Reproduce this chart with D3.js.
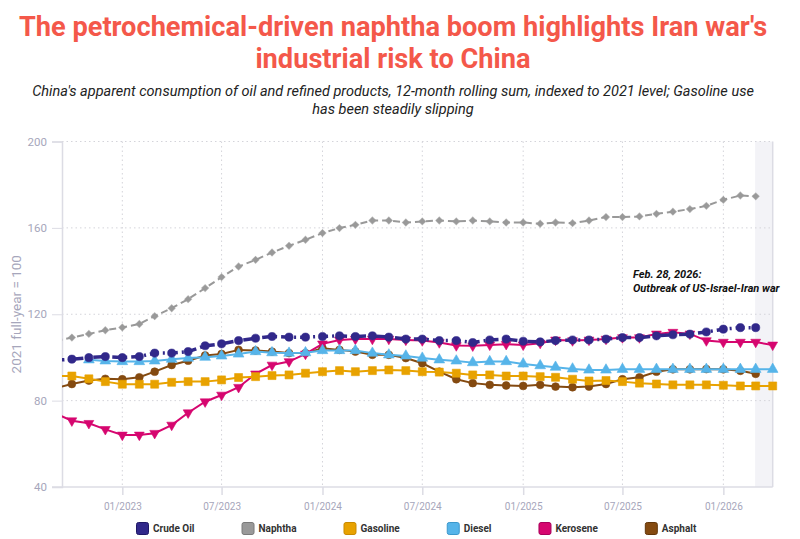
<!DOCTYPE html>
<html>
<head>
<meta charset="utf-8">
<script src="https://cdn.jsdelivr.net/npm/d3@7"></script>
<style>
  body { margin: 0; background: #fff; font-family: Roboto, 'Noto Sans', sans-serif; }
</style>
</head>
<body>
<svg id="chart" width="800" height="539"></svg>
<script>
const months = [
  '2022-09', '2022-10', '2022-11', '2022-12',
  '2023-01', '2023-02', '2023-03', '2023-04', '2023-05', '2023-06',
  '2023-07', '2023-08', '2023-09', '2023-10', '2023-11', '2023-12',
  '2024-01', '2024-02', '2024-03', '2024-04', '2024-05', '2024-06',
  '2024-07', '2024-08', '2024-09', '2024-10', '2024-11', '2024-12',
  '2025-01', '2025-02', '2025-03', '2025-04', '2025-05', '2025-06',
  '2025-07', '2025-08', '2025-09', '2025-10', '2025-11', '2025-12',
  '2026-01', '2026-02', '2026-03', '2026-04',
]

const crudeOil = [98.7, 99.2, 99.9, 100.4, 99.9, 100.4, 102.0, 102.0, 102.7,
  105.4, 106.3, 107.8, 108.9, 109.7, 109.4, 109.4, 109.7, 110.0, 109.7, 110.0, 109.4,
  108.5, 108.5, 107.8, 107.8, 106.9, 108.1, 108.5, 107.5, 107.2, 107.8, 108.1, 108.1,
  108.5, 109.2, 109.2, 110.0, 110.5, 110.8, 111.8, 113.1, 113.8, 113.8, null]
const naphtha = [107.7, 109.2, 110.9, 112.6, 113.9, 115.5, 119.1, 122.8, 127.0,
  132.1, 137.2, 142.1, 145.2, 148.6, 151.7, 154.5, 157.6, 159.9, 161.4, 163.4, 163.4,
  162.5, 163.0, 163.4, 163.0, 163.4, 163.0, 162.5, 162.5, 161.9, 162.5, 162.2, 163.4,
  165.0, 165.0, 165.3, 166.5, 167.5, 168.7, 170.2, 173.0, 175.0, 174.6, null]
const gasoline = [91.4, 91.4, 90.1, 88.8, 87.6, 87.6, 87.6, 88.5, 88.8,
  88.8, 89.6, 90.7, 91.1, 91.6, 91.9, 92.7, 93.4, 93.9, 93.4, 93.9, 94.2,
  93.9, 93.4, 93.2, 92.7, 91.9, 91.9, 91.4, 91.4, 91.1, 90.8, 89.9, 89.1,
  89.3, 88.8, 88.1, 87.7, 87.3, 87.3, 87.3, 87.1, 86.8, 86.8, 86.8]
const diesel = [null, null, 98.9, 98.4, 98.1, 98.1, 98.4, 99.2, 99.7,
  100.1, 100.7, 101.6, 102.7, 102.2, 102.0, 102.2, 103.2, 103.2, 103.2, 102.0, 101.2,
  100.7, 99.7, 98.9, 98.4, 97.6, 98.1, 98.1, 97.0, 96.2, 95.5, 94.7, 94.2,
  94.2, 94.5, 94.5, 94.5, 94.5, 94.5, 94.5, 94.5, 94.5, 94.5, 94.5]
const kerosene = [74.0, 70.7, 69.5, 66.7, 64.1, 64.1, 64.9, 68.7, 74.4,
  79.5, 82.6, 86.2, 92.4, 96.5, 98.1, 101.6, 106.3, 108.1, 108.5, 108.5, 108.5,
  108.1, 107.8, 106.9, 105.5, 105.4, 105.8, 106.1, 105.8, 106.6, 108.1, 107.8, 108.1,
  108.5, 109.2, 109.2, 110.9, 111.7, 110.9, 107.8, 107.1, 107.1, 107.1, 105.8]
const asphalt = [85.7, 87.7, 89.3, 90.1, 89.9, 90.8, 93.4, 96.5, 98.5,
  100.9, 101.6, 103.5, 103.2, 102.7, 102.0, 102.0, 104.3, 103.5, 102.7, 101.2, 101.2,
  99.7, 97.3, 93.4, 89.9, 88.1, 87.3, 87.0, 86.8, 87.3, 86.5, 86.2, 86.5,
  87.7, 89.9, 90.8, 93.4, 94.5, 94.5, 94.6, 94.5, 93.8, 92.4, null]

const yTicks = [40, 80, 120, 160, 200]
const xTicks = ['2023-01', '2023-07', '2024-01', '2024-07', '2025-01', '2025-07', '2026-01']

const parse = d3.timeParse('%Y-%m')
const parseDay = d3.timeParse('%Y-%m-%d')

const series = [
  { name: 'Crude Oil', values: crudeOil, color: '#31288a', edge: '#1f1866', symbol: d3.symbolCircle, size: 52, dash: '9,4,2,4', width: 3.5 },
  { name: 'Naphtha', values: naphtha, color: '#999999', edge: '#7a7a7a', symbol: d3.symbolSquare, size: 24, dash: '7,4', width: 2, turn: 45 },
  { name: 'Gasoline', values: gasoline, color: '#e8a200', edge: '#c98a00', symbol: d3.symbolSquare, size: 64, dash: null, width: 2 },
  { name: 'Diesel', values: diesel, color: '#56b4e9', edge: '#3c98cc', symbol: d3.symbolTriangle, size: 50, dash: null, width: 2 },
  { name: 'Kerosene', values: kerosene, color: '#d6066f', edge: '#a8005a', symbol: d3.symbolTriangle, size: 42, dash: null, width: 2, turn: 180 },
  { name: 'Asphalt', values: asphalt, color: '#844a10', edge: '#62360a', symbol: d3.symbolCircle, size: 48, dash: null, width: 2 },
]

const margin = { top: 141.5, right: 27.3, bottom: 52, left: 62 }
const width = 800
const height = 539
const svg = d3.select('#chart')

const x = d3.scaleTime()
  .domain([parseDay('2022-09-13'), parseDay('2026-04-01')])
  .range([margin.left, width - margin.right])
const y = d3.scaleLinear().domain([40, 200]).range([height - margin.bottom, margin.top])

// title
svg.append('g')
  .attr('font-weight', 700)
  .attr('font-size', 27.2)
  .attr('fill', '#f4584a')
  .attr('text-anchor', 'middle')
  .selectAll('text')
  .data(["The petrochemical-driven naphtha boom highlights Iran war's", 'industrial risk to China'])
  .join('text')
  .attr('x', 393)
  .attr('y', (d, i) => 36 + i * 32)
  .text((d) => d)

svg.append('g')
  .attr('font-style', 'italic')
  .attr('font-size', 14.5)
  .attr('fill', '#222')
  .attr('text-anchor', 'middle')
  .selectAll('text')
  .data(["China's apparent consumption of oil and refined products, 12-month rolling sum, indexed to 2021 level; Gasoline use", 'has been steadily slipping'])
  .join('text')
  .attr('x', 393)
  .attr('y', (d, i) => 96 + i * 18)
  .text((d) => d)

// shaded period after outbreak
const warStart = parseDay('2026-02-28')
svg.append('rect')
  .attr('x', x(warStart))
  .attr('y', y(200))
  .attr('width', x.range()[1] - x(warStart))
  .attr('height', y(40) - y(200))
  .attr('fill', '#f3f3f7')
svg.append('line')
  .attr('x1', x.range()[1]).attr('x2', x.range()[1])
  .attr('y1', y(200)).attr('y2', y(40))
  .attr('stroke', '#dcdce4')
  .attr('stroke-width', 1.5)

// grid
const grid = svg.append('g').attr('stroke', '#d4d4da').attr('stroke-dasharray', '1.5,3')
grid.selectAll('.hg')
  .data(yTicks.filter((d) => d > 40))
  .join('line')
  .attr('x1', margin.left).attr('x2', x.range()[1])
  .attr('y1', (d) => y(d)).attr('y2', (d) => y(d))
grid.selectAll('.vg')
  .data(xTicks)
  .join('line')
  .attr('x1', (d) => x(parse(d))).attr('x2', (d) => x(parse(d)))
  .attr('y1', y(200)).attr('y2', y(40))

// axes
const yAxis = svg.append('g')
  .attr('transform', `translate(${margin.left},0)`)
  .call(d3.axisLeft(y).tickValues(yTicks).tickSize(10).tickPadding(5))
yAxis.select('.domain').attr('stroke', '#dcdce4').attr('stroke-width', 1.5)
yAxis.selectAll('.tick line').attr('stroke', '#dcdce4')
yAxis.selectAll('.tick text').attr('fill', '#a6a6bb').attr('font-size', 11.5).attr('font-family', 'Roboto')

const xAxis = svg.append('g')
  .attr('transform', `translate(0,${y(40)})`)
  .call(d3.axisBottom(x).tickValues(xTicks.map(parse)).tickFormat(d3.timeFormat('%m/%Y')).tickSize(8).tickPadding(8).tickSizeOuter(0))
xAxis.select('.domain').attr('d', `M${margin.left - 10},0H${x.range()[1]}`).attr('stroke', '#dcdce4').attr('stroke-width', 1.5)
xAxis.selectAll('.tick line').attr('stroke', '#dcdce4').attr('stroke-width', 1.5)
xAxis.selectAll('.tick text').attr('fill', '#a6a6bb').attr('font-size', 10).attr('font-family', 'Roboto')

svg.append('text')
  .attr('transform', `translate(21,${(y(40) + y(200)) / 2}) rotate(-90)`)
  .attr('text-anchor', 'middle')
  .attr('font-size', 13.5)
  .attr('fill', '#a6a6bb')
  .text('2021 full-year = 100')

// annotation
svg.append('g')
  .attr('font-size', 11)
  .attr('font-weight', 700)
  .attr('font-style', 'italic')
  .attr('fill', '#111')
  .selectAll('text')
  .data(['Feb. 28, 2026:', 'Outbreak of US-Israel-Iran war'])
  .join('text')
  .attr('x', 633)
  .attr('y', (d, i) => 278 + i * 14)
  .text((d) => d)

// lines
svg.append('clipPath').attr('id', 'plotClip')
  .append('rect')
  .attr('x', margin.left).attr('y', 0)
  .attr('width', x.range()[1] - margin.left + 6)
  .attr('height', height)

const plot = svg.append('g').attr('clip-path', 'url(#plotClip)')
const line = d3.line()
  .defined((d) => d.v != null)
  .x((d) => x(d.date))
  .y((d) => y(d.v))

series.slice().reverse().forEach((s) => {
  const pts = months.map((m, i) => ({ date: parse(m), v: s.values[i] }))
  const g = plot.append('g')
  g.append('path')
    .datum(pts)
    .attr('fill', 'none')
    .attr('stroke', s.color)
    .attr('stroke-width', s.width)
    .attr('stroke-dasharray', s.dash)
    .attr('d', line)
  g.selectAll('path.mk')
    .data(pts.filter((d) => d.v != null && x(d.date) >= margin.left))
    .join('path')
    .attr('class', 'mk')
    .attr('d', d3.symbol(s.symbol, s.size))
    .attr('transform', (d) => `translate(${x(d.date)},${y(d.v)})${s.turn ? ` rotate(${s.turn})` : ''}`)
    .attr('fill', s.color)
    .attr('stroke', s.color)
    .attr('stroke-opacity', 0.6)
    .attr('stroke-width', 1)
})

// legend
const legend = svg.append('g').attr('font-size', 10).attr('font-weight', 700).attr('fill', '#333')
let lx = 136
series.forEach((s) => {
  const item = legend.append('g').attr('transform', `translate(${lx},522)`)
  item.append('rect')
    .attr('x', 0.5).attr('y', 0.5)
    .attr('width', 12).attr('height', 12)
    .attr('rx', 2)
    .attr('fill', s.color)
    .attr('stroke', s.edge)
  const t = item.append('text')
    .attr('x', 17)
    .attr('y', 10)
    .text(s.name)
  lx += 17 + t.node().getComputedTextLength() + 47
})
</script>
</body>
</html>
